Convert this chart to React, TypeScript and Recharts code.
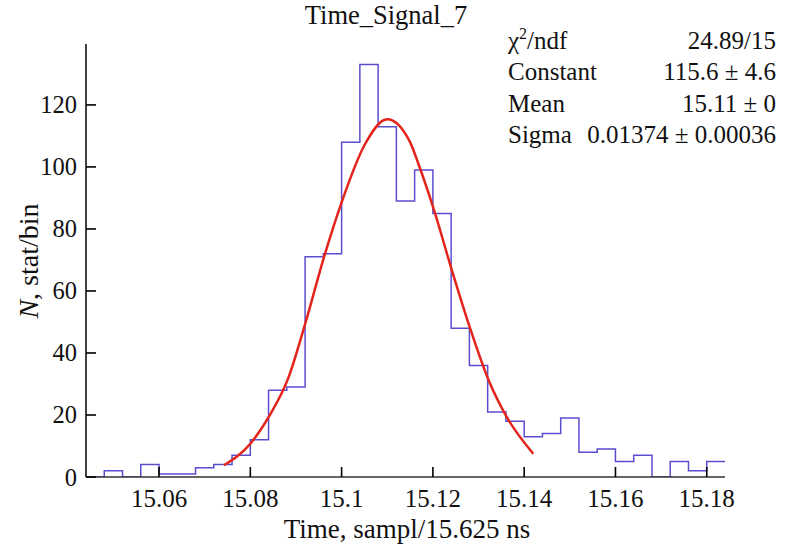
import React from "react";
import { ComposedChart, Line, XAxis, YAxis } from "recharts";

// Histogram bin low edges (bin width 0.004)
const binLowEdges = [
  15.044, 15.048, 15.052, 15.056, 15.06, 15.064, 15.068, 15.072, 15.076, 15.08,
  15.084, 15.088, 15.092, 15.096, 15.1, 15.104, 15.108, 15.112, 15.116, 15.12,
  15.124, 15.128, 15.132, 15.136, 15.14, 15.144, 15.148, 15.152, 15.156, 15.16,
  15.164, 15.168, 15.172, 15.176, 15.18,
];
const histUpperEdge = 15.184;

// Counts per bin
const binCounts = [
  0, 2, 0, 4, 1, 1, 3, 4, 7, 12,
  28, 29, 71, 72, 108, 133, 113, 89, 99, 85,
  48, 36, 21, 18, 13, 14, 19, 8, 9, 5,
  7, 0, 5, 2, 5,
];

// Gaussian fit curve
const fitX = [
  15.0742, 15.0801, 15.084, 15.0884, 15.092, 15.0961, 15.1001, 15.105, 15.11,
  15.115, 15.1169, 15.1201, 15.1242, 15.1281, 15.1321, 15.1362, 15.142,
];
const fitY = [
  3.8, 10.9, 19.3, 32.2, 49.3, 70.7, 89, 107, 115.4,
  108, 100.7, 86.8, 66.5, 48.2, 31.6, 19.3, 7.5,
];

const xTicks = [15.06, 15.08, 15.1, 15.12, 15.14, 15.16, 15.18];
const xTickLabels = ["15.06", "15.08", "15.1", "15.12", "15.14", "15.16", "15.18"];
const yTicks = [0, 20, 40, 60, 80, 100, 120];
const yTickLabels = ["0", "20", "40", "60", "80", "100", "120"];

const statNames = ["χ2/ndf", "Constant", "Mean", "Sigma"];
const statValues = ["24.89/15", "115.6 ± 4.6", "15.11 ± 0", "0.01374 ± 0.00036"];

const title = "Time_Signal_7";
const xTitle = "Time, sampl/15.625 ns";

const histData = [
  ...binLowEdges.map((x, i) => ({ x, y: binCounts[i] })),
  { x: histUpperEdge, y: binCounts[binCounts.length - 1] },
];
const fitData = fitX.map((x, i) => ({ x, y: fitY[i] }));

const FONT = "'Liberation Serif', 'Times New Roman', serif";
const W = 804;
const H = 548;

const XTick = (props: any) => {
  const { x, y, payload } = props;
  const idx = xTicks.indexOf(payload.value);
  return (
    <g>
      <line x1={x} x2={x} y1={y} y2={y - 10} stroke="#000" strokeWidth={1.6} />
      <text x={x} y={y + 30} textAnchor="middle" fontSize={25} fontFamily={FONT} fill="#111">
        {idx >= 0 ? xTickLabels[idx] : String(payload.value)}
      </text>
    </g>
  );
};

const YTick = (props: any) => {
  const { x, y, payload } = props;
  const idx = yTicks.indexOf(payload.value);
  return (
    <g>
      <line x1={x} x2={x + 10} y1={y} y2={y} stroke="#000" strokeWidth={1.6} />
      <text x={x - 9} y={y + 8.5} textAnchor="end" fontSize={24.5} fontFamily={FONT} fill="#111">
        {idx >= 0 ? yTickLabels[idx] : String(payload.value)}
      </text>
    </g>
  );
};

export default function App() {
  return (
    <div style={{ position: "absolute", left: 0, top: 0, width: W, height: H, background: "#fff" }}>
      <ComposedChart
        width={W}
        height={H}
        margin={{ top: 44, right: 79, bottom: 0, left: 0 }}
      >
        <XAxis
          type="number"
          dataKey="x"
          domain={[15.044, 15.184]}
          ticks={xTicks}
          allowDataOverflow
          height={71}
          tickSize={0}
          tickMargin={0}
          tickLine={false}
          axisLine={{ stroke: "#333", strokeWidth: 1.6 }}
          tick={<XTick />}
          interval={0}
        />
        <YAxis
          type="number"
          domain={[0, 139.65]}
          ticks={yTicks}
          allowDataOverflow
          width={86}
          tickSize={0}
          tickMargin={0}
          tickLine={false}
          axisLine={{ stroke: "#111", strokeWidth: 1.6 }}
          tick={<YTick />}
          interval={0}
        />
        <Line
          data={histData}
          dataKey="y"
          type="stepAfter"
          stroke="#5a4ed0"
          strokeWidth={1.5}
          dot={false}
          isAnimationActive={false}
        />
        <Line
          data={fitData}
          dataKey="y"
          type="monotone"
          stroke="#e3241c"
          strokeWidth={2.5}
          dot={false}
          isAnimationActive={false}
        />
      </ComposedChart>
      <svg
        width={W}
        height={H}
        style={{ position: "absolute", left: 0, top: 0, pointerEvents: "none" }}
      >
        <text x={386} y={24} textAnchor="middle" fontSize={26.5} fontFamily={FONT} fill="#111">
          {title}
        </text>
        <text x={407} y={538} textAnchor="middle" fontSize={27} fontFamily={FONT} fill="#111">
          {xTitle}
        </text>
        <text
          x={38}
          y={261}
          transform="rotate(-90, 38, 261)"
          textAnchor="middle"
          fontSize={28}
          fontFamily={FONT}
          fill="#111"
        >
          <tspan fontStyle="italic">N</tspan>
          <tspan>, stat/bin</tspan>
        </text>
        {statNames.map((name, i) => (
          <g key={name}>
            <text x={508} y={49 + i * 31.3} fontSize={25} fontFamily={FONT} fill="#111">
              {i === 0 ? (
                <>
                  <tspan>χ</tspan>
                  <tspan dy={-10} fontSize={16}>2</tspan>
                  <tspan dy={10}>/ndf</tspan>
                </>
              ) : (
                name
              )}
            </text>
            <text
              x={776}
              y={49 + i * 31.3}
              textAnchor="end"
              fontSize={25}
              fontFamily={FONT}
              fill="#111"
            >
              {statValues[i]}
            </text>
          </g>
        ))}
      </svg>
    </div>
  );
}
